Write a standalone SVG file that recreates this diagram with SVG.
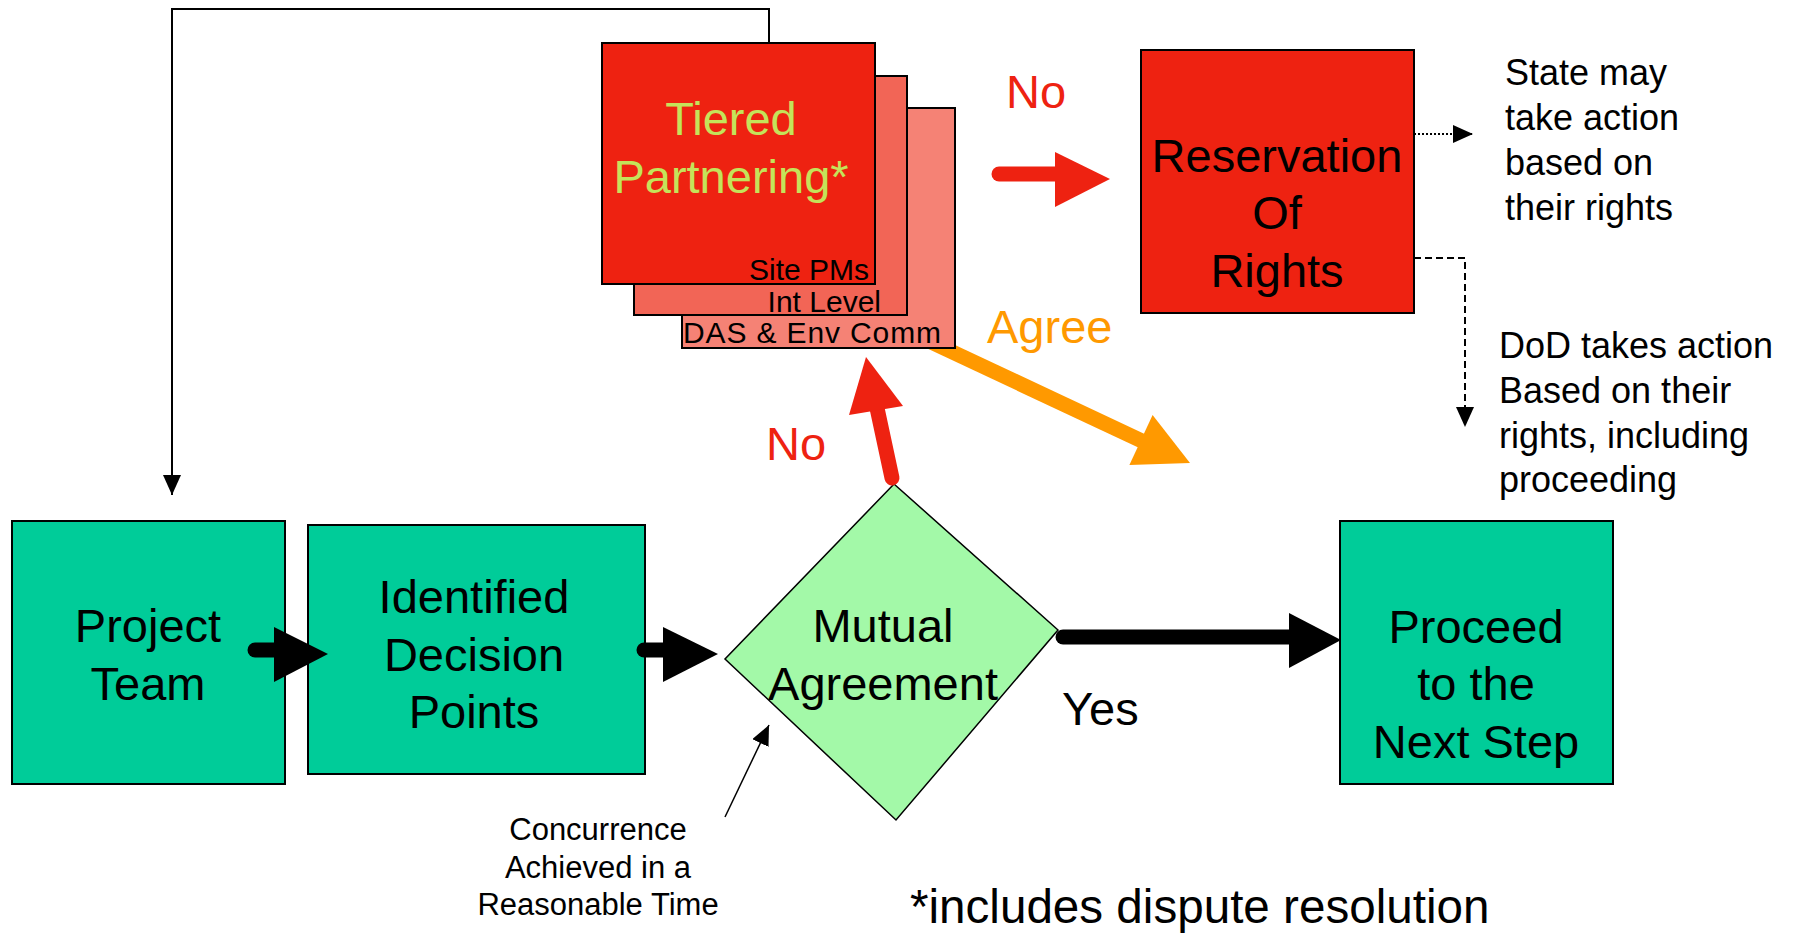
<svg xmlns="http://www.w3.org/2000/svg" width="1799" height="934" viewBox="0 0 1799 934">
<defs>
<style>
text{font-family:"Liberation Sans",Arial,sans-serif;}
.big{font-size:47px;}
.mid{font-size:36px;}
.sm{font-size:30px;}
.note{font-size:31px;}
.ctr{text-anchor:middle;}
.box{stroke:#000;stroke-width:2;}
.green{fill:#00CC99;}
.red{fill:#EE2211;}
.thin{fill:none;stroke:#000;stroke-width:2;}
</style>
<marker id="tri" viewBox="0 0 20 18" refX="20" refY="9" markerWidth="20" markerHeight="18" markerUnits="userSpaceOnUse" orient="auto">
<path d="M0,0 L20,9 L0,18 Z" fill="#000"/>
</marker>
<clipPath id="outsideTier" clip-rule="evenodd">
<path clip-rule="evenodd" d="M0,0 H1799 V934 H0 Z M681,107 V349 H956 V107 Z"/>
</clipPath>
</defs>
<rect width="1799" height="934" fill="#fff"/>

<g id="tiered">
<rect x="682" y="108" width="273" height="240" fill="#F58275" class="box"/>
<rect x="634" y="76" width="273" height="239" fill="#F26556" class="box"/>
<rect x="602" y="43" width="273" height="241" fill="#EE2211" class="box"/>
<text class="big ctr" x="731" y="135" fill="#C4E35A">Tiered</text>
<text class="big ctr" x="731" y="193" fill="#C4E35A">Partnering*</text>
<text class="sm" x="869" y="280" text-anchor="end" fill="#000">Site PMs</text>
<text class="sm" x="881" y="312" text-anchor="end" fill="#000">Int Level</text>
<text class="sm" x="683" y="343" textLength="258" fill="#000">DAS &amp; Env Comm</text>
</g>

<g id="reservation">
<rect x="1141" y="50" width="273" height="263" class="box red"/>
<text class="big ctr" x="1277" y="172">Reservation</text>
<text class="big ctr" x="1277" y="229">Of</text>
<text class="big ctr" x="1277" y="287">Rights</text>
</g>

<g id="project-team">
<rect x="12" y="521" width="273" height="263" class="box green"/>
<text class="big ctr" x="148" y="642">Project</text>
<text class="big ctr" x="148" y="700">Team</text>
</g>

<g id="decision-points">
<rect x="308" y="525" width="337" height="249" class="box green"/>
<text class="big ctr" x="474" y="613">Identified</text>
<text class="big ctr" x="474" y="671">Decision</text>
<text class="big ctr" x="474" y="728">Points</text>
</g>

<g id="mutual-agreement">
<polygon points="894,484 1058,630 896,820 725,659" fill="#A3F9A8" stroke="#000" stroke-width="1.5"/>
<text class="big ctr" x="883" y="642">Mutual</text>
<text class="big ctr" x="883" y="700">Agreement</text>
</g>

<g id="proceed">
<rect x="1340" y="521" width="273" height="263" class="box green"/>
<text class="big ctr" x="1476" y="643">Proceed</text>
<text class="big ctr" x="1476" y="700">to the</text>
<text class="big ctr" x="1476" y="758">Next Step</text>
</g>

<g id="connectors">
<!-- orange Agree arrow (emerges from beneath tiered boxes) -->
<g clip-path="url(#outsideTier)">
<line x1="914" y1="334" x2="1142" y2="441" stroke="#FF9900" stroke-width="15"/>
</g>
<polygon points="1152.6,415 1190,463 1129.4,465" fill="#FF9900"/>
<!-- feedback line -->
<polyline class="thin" points="769,43 769,9 172,9 172,495" marker-end="url(#tri)"/>
<!-- black arrows -->
<line x1="255" y1="650" x2="276" y2="650" stroke="#000" stroke-width="15" stroke-linecap="round"/>
<polygon points="274,627 328,654 274,682" fill="#000"/>
<line x1="644" y1="650" x2="665" y2="650" stroke="#000" stroke-width="15" stroke-linecap="round"/>
<polygon points="663,627 718,654 663,682" fill="#000"/>
<line x1="1063" y1="637" x2="1291" y2="637" stroke="#000" stroke-width="15" stroke-linecap="round"/>
<polygon points="1289,613 1341,640 1289,668" fill="#000"/>
<!-- red horizontal No arrow -->
<line x1="999" y1="174" x2="1057" y2="174" stroke="#EE2211" stroke-width="15" stroke-linecap="round"/>
<polygon points="1055,152 1110,179 1055,207" fill="#EE2211"/>
<!-- red up No arrow -->
<line x1="892" y1="478" x2="877" y2="408" stroke="#EE2211" stroke-width="15" stroke-linecap="round"/>
<polygon points="849,415 866,357 903,406" fill="#EE2211"/>
<!-- state dotted -->
<line x1="1414" y1="134" x2="1473" y2="134" stroke="#000" stroke-width="2" stroke-dasharray="2,2" marker-end="url(#tri)"/>
<!-- DoD dashed -->
<polyline points="1414,258 1465,258 1465,427" fill="none" stroke="#000" stroke-width="2" stroke-dasharray="7,4" marker-end="url(#tri)"/>
<!-- concurrence pointer -->
<line x1="725" y1="817" x2="769" y2="725" stroke="#000" stroke-width="1.5" marker-end="url(#tri)"/>
</g>

<g id="labels">
<text class="big" x="1006" y="108" fill="#EE2211">No</text>
<text class="big" x="766" y="460" fill="#EE2211">No</text>
<text class="big" x="987" y="343" fill="#FF9900">Agree</text>
<text class="big" x="1062" y="725">Yes</text>
<text class="mid" x="1505" y="85">State may</text>
<text class="mid" x="1505" y="130">take action</text>
<text class="mid" x="1505" y="175">based on</text>
<text class="mid" x="1505" y="220">their rights</text>
<text class="mid" x="1499" y="358">DoD takes action</text>
<text class="mid" x="1499" y="403">Based on their</text>
<text class="mid" x="1499" y="448">rights, including</text>
<text class="mid" x="1499" y="492">proceeding</text>
<text class="note ctr" x="598" y="840">Concurrence</text>
<text class="note ctr" x="598" y="878">Achieved in a</text>
<text class="note ctr" x="598" y="915">Reasonable Time</text>
<text class="big" x="910" y="923" style="font-size:47.6px">*includes dispute resolution</text>
</g>
</svg>
